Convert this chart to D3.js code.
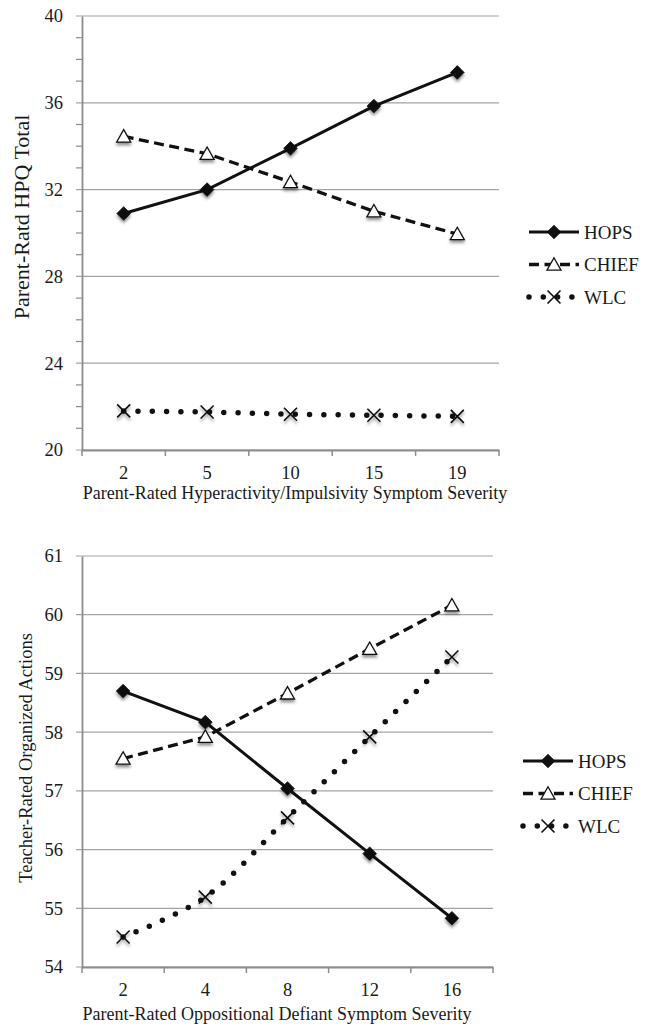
<!DOCTYPE html>
<html>
<head>
<meta charset="UTF-8" />
<script src="https://d3js.org/d3.v7.min.js"></script>
<style>
  body { margin: 0; background: #fff; }
  text { font-family: "Liberation Serif", "Times New Roman", serif; fill: #1a1a1a; }
</style>
</head>
<body>
<svg id="chart" width="652" height="1029"></svg>
<script>
// values
var hpqCats = ["2", "5", "10", "15", "19"];
var hpqHops = [30.9, 32.0, 33.9, 35.85, 37.4];
var hpqChief = [34.45, 33.65, 32.35, 31.0, 29.95];
var hpqWlc = [21.8, 21.75, 21.65, 21.6, 21.55];
var hpqTicks = [20, 24, 28, 32, 36, 40];

var orgCats = ["2", "4", "8", "12", "16"];
var orgHops = [58.7, 58.17, 57.04, 55.93, 54.83];
var orgChief = [57.55, 57.92, 58.66, 59.42, 60.16];
var orgWlc = [54.51, 55.19, 56.54, 57.92, 59.28];
var orgTicks = [54, 55, 56, 57, 58, 59, 60, 61];

var seriesNames = ["HOPS", "CHIEF", "WLC"];

var svg = d3.select("#chart");
var defs = svg.append("defs");
defs.append("filter").attr("id", "shadow")
  .attr("x", "-50%").attr("y", "-50%").attr("width", "200%").attr("height", "200%")
  .append("feDropShadow")
  .attr("dx", 0).attr("dy", 2.5).attr("stdDeviation", 1.6)
  .attr("flood-color", "#000").attr("flood-opacity", 0.45);

var ink = "#111";

function drawMarker(g, kind, x, y, shadow) {
  var m;
  if (kind == "HOPS") {
    m = g.append("path")
      .attr("d", "M0,-6.8L6.8,0L0,6.8L-6.8,0Z")
      .attr("fill", ink).attr("stroke", ink).attr("stroke-width", 0.8);
  } else if (kind == "CHIEF") {
    m = g.append("path")
      .attr("d", "M0,-6.8L7,5.6L-7,5.6Z")
      .attr("fill", "#fff").attr("stroke", ink).attr("stroke-width", 1.3);
  } else {
    m = g.append("path")
      .attr("d", "M-6.5,-6.5L6.5,6.5M6.5,-6.5L-6.5,6.5")
      .attr("fill", "none").attr("stroke", ink).attr("stroke-width", 1.6);
  }
  m.attr("transform", "translate(" + x + "," + y + ")");
  if (shadow) m.attr("filter", "url(#shadow)");
}

function lineStyle(sel, kind) {
  sel.attr("fill", "none").attr("stroke", ink);
  if (kind == "HOPS") sel.attr("stroke-width", 3);
  else if (kind == "CHIEF") sel.attr("stroke-width", 3.3).attr("stroke-dasharray", "10 5.5");
  else sel.attr("stroke-width", 5.5).attr("stroke-linecap", "round").attr("stroke-dasharray", "0 14.3");
}

function drawChart(o) {
  var x = d3.scaleBand().domain(o.cats).range([o.left, o.right]);
  var y = d3.scaleLinear().domain(o.domain).range([o.bottom, o.top]);
  var g = svg.append("g");

  // horizontal grid
  g.selectAll(".grid").data(o.ticks).enter().append("line")
    .attr("x1", o.left - 6).attr("x2", o.right)
    .attr("y1", function(d) { return y(d); }).attr("y2", function(d) { return y(d); })
    .attr("stroke", "#a3a3a3").attr("stroke-width", 1.2);

  if (o.minor) {
    g.selectAll(".minor").data(o.minor).enter().append("line")
      .attr("x1", o.left - 6).attr("x2", o.left)
      .attr("y1", function(d) { return y(d); }).attr("y2", function(d) { return y(d); })
      .attr("stroke", "#8c8c8c").attr("stroke-width", 1.2);
  }

  // y axis
  var ya = g.append("g").attr("transform", "translate(" + o.left + ",0)")
    .call(d3.axisLeft(y).tickValues(o.ticks).tickSize(0).tickPadding(19).tickFormat(d3.format("d")));
  ya.select(".domain").attr("stroke", "#8c8c8c").attr("stroke-width", 1.8);
  ya.selectAll("text").attr("font-size", 18.5).attr("font-family", "Liberation Serif").attr("fill", "#1a1a1a");

  // x axis
  var xa = g.append("g").attr("transform", "translate(0," + o.bottom + ")")
    .call(d3.axisBottom(x).tickSize(0).tickPadding(o.tickPad));
  xa.select(".domain").attr("stroke", "#8c8c8c").attr("stroke-width", 1.8);
  xa.selectAll("text").attr("font-size", 18.5).attr("font-family", "Liberation Serif").attr("fill", "#1a1a1a");
  var bounds = o.cats.map(function(c) { return x(c); }).concat([o.right]);
  g.selectAll(".xt").data(bounds).enter().append("line")
    .attr("x1", function(d) { return d; }).attr("x2", function(d) { return d; })
    .attr("y1", o.bottom).attr("y2", o.bottom + 6)
    .attr("stroke", "#8c8c8c").attr("stroke-width", 1.5);

  // titles
  g.append("text").attr("x", o.xTitleX).attr("y", o.bottom + o.xTitleDy)
    .attr("text-anchor", "middle").attr("font-size", 18).text(o.xTitle);
  g.append("text")
    .attr("transform", "translate(" + o.yTitleX + "," + o.yTitleY + ") rotate(-90)")
    .attr("text-anchor", "middle").attr("font-size", o.yTitleSize).text(o.yTitle);

  // series
  var cx = function(i) { return x(o.cats[i]) + x.bandwidth() / 2; };
  var series = [o.hops, o.chief, o.wlc];
  series.forEach(function(vals, s) {
    var kind = seriesNames[s];
    var curve = (kind == "WLC" && o.smoothWlc) ? d3.curveCatmullRom : d3.curveLinear;
    var line = d3.line().x(function(d, i) { return cx(i); }).y(function(d) { return y(d); }).curve(curve);
    g.append("path").datum(vals).attr("d", line).call(lineStyle, kind);
  });
  series.forEach(function(vals, s) {
    vals.forEach(function(v, i) { drawMarker(g, seriesNames[s], cx(i), y(v), true); });
  });

  // legend
  var lx = o.right + 30;
  seriesNames.forEach(function(name, i) {
    var ly = o.legendY + i * 32.5;
    g.append("line").attr("x1", lx).attr("x2", lx + 50).attr("y1", ly).attr("y2", ly).call(lineStyle, name);
    drawMarker(g, name, lx + 25, ly, false);
    g.append("text").attr("x", lx + 55).attr("y", ly).attr("dy", "0.35em")
      .attr("font-size", 19).text(name);
  });
}

drawChart({
  cats: hpqCats, hops: hpqHops, chief: hpqChief, wlc: hpqWlc,
  ticks: hpqTicks, minor: d3.range(21, 40).filter(function(d) { return d % 4 != 0; }),
  domain: [20, 40], left: 82, right: 499, top: 16, bottom: 450,
  tickPad: 16, xTitleX: 295, xTitleDy: 49,
  xTitle: "Parent-Rated Hyperactivity/Impulsivity Symptom Severity",
  yTitle: "Parent-Ratd HPQ Total", yTitleX: 29, yTitleY: 217, yTitleSize: 22,
  legendY: 232, smoothWlc: false
});

drawChart({
  cats: orgCats, hops: orgHops, chief: orgChief, wlc: orgWlc,
  ticks: orgTicks, minor: null,
  domain: [54, 61], left: 82, right: 493, top: 556, bottom: 967,
  tickPad: 16, xTitleX: 277, xTitleDy: 53,
  xTitle: "Parent-Rated Oppositional Defiant Symptom Severity",
  yTitle: "Teacher-Rated Organized Actions", yTitleX: 32, yTitleY: 758, yTitleSize: 18.5,
  legendY: 761, smoothWlc: true
});
</script>
</body>
</html>
